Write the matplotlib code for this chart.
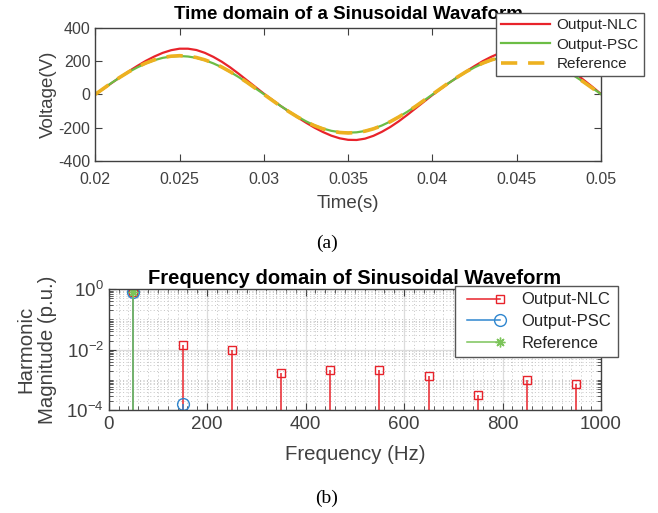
import numpy as np
import matplotlib
matplotlib.use("Agg")
import matplotlib.pyplot as plt
from matplotlib.lines import Line2D
from matplotlib.legend_handler import HandlerLine2D
from matplotlib.ticker import FormatStrFormatter, MultipleLocator, LogLocator, NullFormatter

plt.rcParams["font.family"] = ["Liberation Sans", "DejaVu Sans"]
plt.rcParams["mathtext.fontset"] = "custom"
plt.rcParams["mathtext.rm"] = "Liberation Sans"
plt.rcParams["mathtext.default"] = "regular"
plt.rcParams["axes.unicode_minus"] = False

# ---- time domain data (sampled every 0.5 ms) ----
t_start, t_end, n_samples = 0.02, 0.05, 61
v_reference = [
    0, 36, 72, 105, 136, 164, 188, 207, 221, 229, 232, 229, 221, 207, 188, 164, 136, 105, 72, 36, 0,
    -36, -72, -105, -136, -164, -188, -207, -221, -229, -232, -229, -221, -207, -188, -164, -136, -105, -72, -36, 0,
    36, 72, 105, 136, 164, 188, 207, 221, 229, 232, 229, 221, 207, 188, 164, 136, 105, 72, 36, 0,
]
v_psc = [
    0, 36, 71, 104, 135, 162, 186, 205, 219, 227, 230, 227, 219, 205, 186, 163, 135, 104, 71, 36, 1,
    -35, -70, -103, -134, -162, -186, -205, -219, -227, -230, -228, -220, -206, -187, -163, -136, -105, -72, -37, -1,
    35, 70, 103, 134, 162, 186, 205, 219, 227, 230, 228, 220, 206, 187, 163, 136, 105, 72, 37, 1,
]
v_nlc = [
    0, 34, 70, 105, 139, 171, 201, 227, 249, 265, 274, 274, 266, 249, 225, 196, 162, 124, 84, 44, 4,
    -33, -70, -104, -138, -170, -200, -226, -248, -264, -273, -274, -266, -249, -225, -196, -162, -124, -84, -44, -4,
    33, 70, 104, 138, 170, 200, 226, 248, 264, 273, 274, 266, 249, 225, 196, 162, 124, 84, 44, 2,
]

# ---- frequency domain data ----
f_nlc = [50, 150, 250, 350, 450, 550, 650, 750, 850, 950]
mag_nlc = [0.82, 0.0138, 0.0098, 0.00172, 0.00205, 0.00212, 0.00138, 0.00032, 0.00100, 0.00075]
f_psc = [50, 150]
mag_psc = [0.82, 0.000155]
f_ref = [50]
mag_ref = [0.82]

RED = "#e8232b"
GREEN = "#6cbd45"
ORANGE = "#edb120"
BLUE = "#2f86cf"
GREEN2 = "#7cc45a"
AX_GREY = "#404040"
ASTERISK = (8, 2, 0)


class HandlerMarkerRight(HandlerLine2D):
    """Legend entry like MATLAB stem: line with marker at right end."""

    def create_artists(self, legend, orig_handle, xdescent, ydescent, width, height, fontsize, trans):
        artists = super().create_artists(legend, orig_handle, xdescent, ydescent, width, height, fontsize, trans)
        for a in artists:
            n = len(a.get_xdata())
            a.set_markevery([n - 1])
        return artists


def style_axes(ax, size, xpad=4):
    for sp in ax.spines.values():
        sp.set_color(AX_GREY)
        sp.set_linewidth(1.0)
    ax.tick_params(which="both", direction="in", top=True, right=True, colors=AX_GREY,
                   labelsize=size, labelcolor=AX_GREY)
    ax.tick_params(which="major", length=5)
    ax.tick_params(which="minor", length=3)
    ax.tick_params(axis="x", which="major", pad=xpad)


fig = plt.figure(figsize=(6.58, 5.13), dpi=100)

# ---------------- (a) time domain ----------------
ax1 = fig.add_axes([0.1448, 0.6862, 0.7686, 0.2598])
t = np.linspace(t_start, t_end, n_samples)
ax1.plot(t, v_nlc, color=RED, lw=1.6, label="Output-NLC")
ax1.plot(t, v_psc, color=GREEN, lw=1.6, label="Output-PSC")
ax1.plot(t, v_reference, color=ORANGE, lw=2.6, dashes=(4.5, 3.0), label="Reference")
ax1.set_xlim(0.02, 0.05)
ax1.set_ylim(-400, 400)
ax1.set_xticks([0.02, 0.025, 0.03, 0.035, 0.04, 0.045, 0.05])
ax1.set_yticks([-400, -200, 0, 200, 400])
ax1.xaxis.set_major_formatter(FormatStrFormatter("%g"))
style_axes(ax1, 11.5, xpad=8)
ax1.set_xlabel("Time(s)", fontsize=13.5, color=AX_GREY, labelpad=6)
ax1.set_ylabel("Voltage(V)", fontsize=13.5, color=AX_GREY, labelpad=1)
ax1.set_title("Time domain of a Sinusoidal Wavaform", fontsize=13.5, fontweight="bold", pad=6)
leg1 = ax1.legend(loc="upper left", bbox_to_anchor=(496 / 658, 1 - 13 / 513),
                  bbox_transform=fig.transFigure, fontsize=11, frameon=True, fancybox=False,
                  framealpha=1, edgecolor="#555555", handlelength=3.2, handletextpad=0.4,
                  labelspacing=0.35, borderpad=0.35, borderaxespad=0)
leg1.get_frame().set_linewidth(1.0)
for txt in leg1.get_texts():
    txt.set_color("#262626")

# ---------------- (b) frequency domain ----------------
ax2 = fig.add_axes([108.7 / 658, 1 - 410 / 513, (601 - 108.7) / 658, (410 - 289.3) / 513])
ax2.set_yscale("log")
bottom = 1e-4
m1, s1, b1 = ax2.stem(f_nlc, mag_nlc, bottom=bottom)
m2, s2, b2 = ax2.stem(f_psc, mag_psc, bottom=bottom)
m3, s3, b3 = ax2.stem(f_ref, mag_ref, bottom=bottom)
for (m, s, b, c, mk, ms) in [(m1, s1, b1, RED, "s", 6), (m2, s2, b2, BLUE, "o", 8.5),
                             (m3, s3, b3, GREEN2, ASTERISK, 7)]:
    s.set_color(c)
    s.set_linewidth(1.1)
    m.set_marker(mk)
    m.set_markersize(ms)
    m.set_markerfacecolor("none")
    m.set_markeredgecolor(c)
    m.set_markeredgewidth(1.0)
    b.set_visible(False)
ax2.set_xlim(0, 1000)
ax2.set_ylim(1e-4, 1)
ax2.set_xticks([0, 200, 400, 600, 800, 1000])
ax2.xaxis.set_minor_locator(MultipleLocator(20))
ax2.set_yticks([1e-4, 1e-2, 1])
ax2.yaxis.set_minor_locator(LogLocator(base=10, subs=np.arange(1, 10), numticks=20))
ax2.yaxis.set_minor_formatter(NullFormatter())
ax2.grid(True, which="major", color="#dcdcdc", lw=0.9, ls="-")
ax2.grid(True, which="minor", color="#c4c4c4", lw=0.7, ls=(0, (1, 2.5)))
ax2.set_axisbelow(True)
style_axes(ax2, 13.5, xpad=4)
ax2.set_xlabel("Frequency (Hz)", fontsize=14.7, color=AX_GREY, labelpad=9)
ax2.set_ylabel("Harmonic\nMagnitude (p.u.)", fontsize=14.7, color=AX_GREY, labelpad=7,
               linespacing=1.15)
ax2.set_title("Frequency domain of Sinusoidal Waveform", fontsize=14.5, fontweight="bold", pad=4)

handles = [Line2D([0, 1], [0, 0], color=RED, lw=1.1, marker="s", ms=6, mfc="none", mec=RED),
           Line2D([0, 1], [0, 0], color=BLUE, lw=1.1, marker="o", ms=8.5, mfc="none", mec=BLUE),
           Line2D([0, 1], [0, 0], color=GREEN2, lw=1.1, marker=ASTERISK, ms=7, mfc="none", mec=GREEN2)]
leg2 = ax2.legend(handles, ["Output-NLC", "Output-PSC", "Reference"], loc="upper left",
                  bbox_to_anchor=(455 / 658, 1 - 285.7 / 513), bbox_transform=fig.transFigure,
                  fontsize=12, frameon=True, fancybox=False, framealpha=1, edgecolor="#555555",
                  handlelength=2.6, handletextpad=1.0, labelspacing=0.4, borderpad=0.4,
                  borderaxespad=0, handler_map={Line2D: HandlerMarkerRight(numpoints=2)})
leg2.get_frame().set_linewidth(1.0)
for txt in leg2.get_texts():
    txt.set_color("#262626")

# captions
fig.text(327 / 658, 1 - 243 / 513, "(a)", family=["Liberation Serif"], fontsize=14,
         ha="center", va="center")
fig.text(327 / 658, 1 - 498 / 513, "(b)", family=["Liberation Serif"], fontsize=14,
         ha="center", va="center")

fig.savefig("out.png", dpi=100)
